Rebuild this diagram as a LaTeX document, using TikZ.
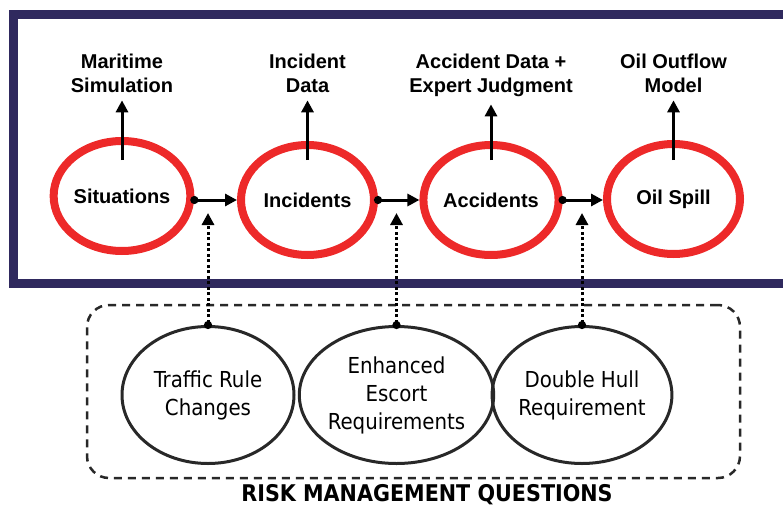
\documentclass[tikz,border=0pt]{standalone}
\usepackage{fontspec}
\setmainfont{Liberation Sans}
\newfontfamily\qfont{DejaVu Sans Condensed}
\usetikzlibrary{arrows.meta,shapes.geometric}
\definecolor{navyframe}{RGB}{47,41,94}
\definecolor{spillred}{RGB}{237,41,41}
\definecolor{inkgrey}{RGB}{40,40,40}
\begin{document}
\begin{tikzpicture}[x=1pt, y=-1pt, event/.style = {draw=spillred, ellipse, line width=8pt, minimum width=133pt, minimum height=110pt, inner sep=0pt, font=\fontsize{20}{24}\selectfont\bfseries}, source/.style = {align=center, inner sep=0pt, outer sep=8pt, font=\fontsize{20}{24}\selectfont\bfseries}, quest/.style = {draw=inkgrey, ellipse, line width=3pt, minimum width=172pt, minimum height=137pt, inner sep=0pt, align=center, font=\qfont\fontsize{22}{28}\selectfont}, flow/.style = {line width=3pt, {Circle[length=8pt]}-{Triangle[length=12pt,width=12pt]}, shorten <=-4pt}, feed/.style = {line width=3pt, -{Triangle[length=12pt,width=12pt]}}, hint/.style = {line width=3pt, dash pattern=on 3pt off 2.5pt, {Circle[length=8pt]}-{Triangle[length=12pt,width=12pt]}, shorten <=-4pt}, panel/.style = {draw=inkgrey, line width=2.5pt, dash pattern=on 8pt off 6pt, rounded corners=22pt, minimum width=653pt, minimum height=173pt, inner sep=0pt}]
                \useasboundingbox (0,0) rectangle (783,508);
                \draw[navyframe, line width=9pt] (795,14.5) -- (13.5,14.5) -- (13.5,283.5) -- (795,283.5);
                \node[event] (sit) at (122,196) {Situations};
                \node[event] (inc) at (307.5,200) {Incidents};
                \node[event] (acc) at (491,200) {Accidents};
                \node[event] (oil) at (673.5,199) {Oil Spill};
                \node[source] (l0) at (122,73) {Maritime\\Simulation};
                \node[source] (l1) at (307.5,73) {Incident\\Data};
                \node[source] (l2) at (491,75) {Accident Data +\\Expert Judgment};
                \node[source] (l3) at (673.5,73) {Oil Outflow\\Model};
                \draw[feed] (sit.center |- 0,160) -- (l0.south);
                \draw[feed] (inc.center |- 0,160) -- (l1.south);
                \draw[feed] (acc.center |- 0,160) -- (l2.south);
                \draw[feed] (oil.center |- 0,160) -- (l3.south);
                \draw[flow] (sit.east |- inc.west) -- (inc.west);
                \draw[flow] (inc.east) -- (acc.west);
                \draw[flow] (acc.east) -- (oil.west |- acc.east);
                \node[panel] (box) at (413.5,391.5) {};
                \node[quest] (q0) at (208,395) {Traffic Rule\\Changes};
                \node[quest] (q1) at (396.5,395) {Enhanced\\Escort\\Requirements};
                \node[quest] (q2) at (582,395) {Double Hull\\Requirement};
                \coordinate (t0) at (q0.north |- 0,213);
                \coordinate (t1) at (q1.north |- 0,213);
                \coordinate (t2) at (q2.north |- 0,213);
                \draw[hint] (q0.north) -- (t0);
                \draw[hint] (q1.north) -- (t1);
                \draw[hint] (q2.north) -- (t2);
                \node[font=\qfont\bfseries\fontsize{23}{26}\selectfont] (title) at (427,495) {RISK MANAGEMENT QUESTIONS};
            \end{tikzpicture}
\end{document}
